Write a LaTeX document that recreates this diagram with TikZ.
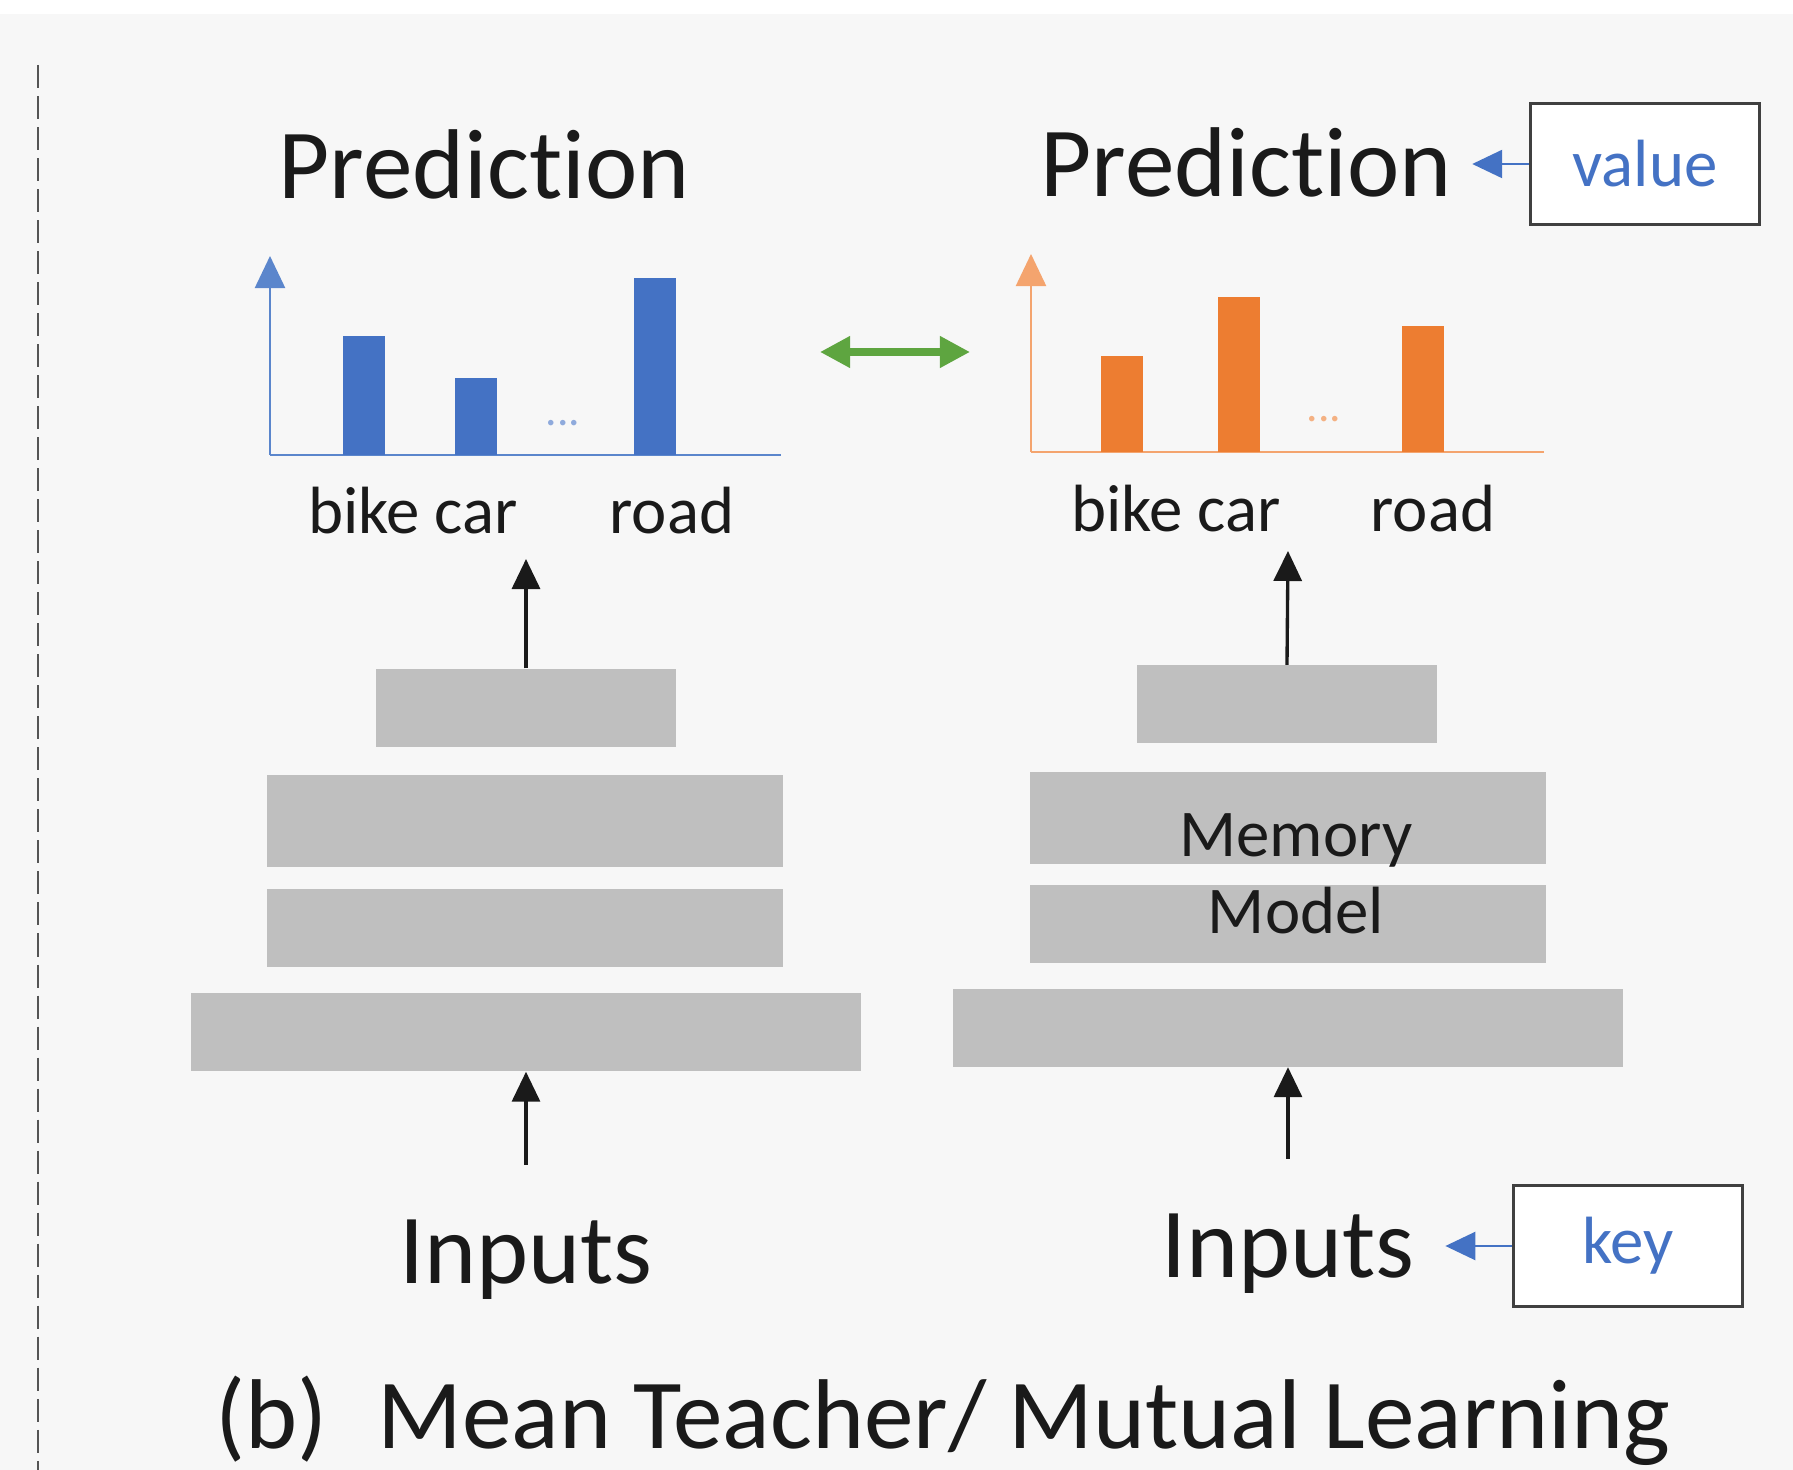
\documentclass[tikz,border=0pt]{standalone}
\usepackage{fontspec}
\setmainfont[Ligatures=NoCommon]{Carlito}
\usetikzlibrary{arrows.meta}

\definecolor{bgcol}{HTML}{F7F7F7}
\definecolor{txtblack}{HTML}{1A1A1A}
\definecolor{layergray}{HTML}{BFBFBF}
\definecolor{barblue}{HTML}{4472C4}
\definecolor{axisblue}{HTML}{5B86CC}
\definecolor{dotblue}{HTML}{8FAADC}
\definecolor{barorange}{HTML}{ED7D31}
\definecolor{axisorange}{HTML}{F4A46E}
\definecolor{dotorange}{HTML}{F4B183}
\definecolor{pairgreen}{HTML}{5EA540}
\definecolor{boxgray}{HTML}{404040}
\definecolor{dashgray}{HTML}{555555}

\begin{document}
\begin{tikzpicture}[x=0.01cm, y=-0.01cm,
    title/.style={font=\fontsize{28.2}{34}\selectfont, text=txtblack, inner sep=0, anchor=base},
    catlabel/.style={font=\fontsize{19}{23}\selectfont, text=txtblack, inner sep=0, anchor=base},
    dots/.style={font=\fontsize{13}{15}\selectfont, inner sep=0, anchor=base},
    layer/.style={fill=layergray, inner sep=0},
    kvbox/.style={draw=boxgray, line width=0.85pt, fill=white, text=barblue, font=\fontsize{19}{23}\selectfont, minimum width=2.29cm, minimum height=1.21cm},
    flow/.style={-{Triangle[length=0.3cm, width=0.28cm]}, line width=0.95pt, txtblack},
    kvarrow/.style={-{Triangle[length=0.3cm, width=0.28cm]}, line width=0.7pt, barblue},
    pairarrow/.style={{Triangle[length=0.3cm, width=0.3cm]}-{Triangle[length=0.3cm, width=0.3cm]}, line width=2pt, pairgreen}]

    % background
    \fill[bgcol] (0,0) rectangle (1793,1470);
    \fill[white] (0,0) rectangle (1793,14);
    \useasboundingbox (0,0) rectangle (1793,1470);

    % separator
    \draw[dashgray, line width=0.85pt, dash pattern=on 0.23cm off 0.08cm] (38,65) -- (38,1470);

    % Left prediction (blue)
    \node[title] (l_pred) at (484,199) {Prediction};
    \draw[axisblue, line width=0.65pt, -{Triangle[length=0.32cm, width=0.3cm]}] (270,455) -- (270,256);
    \draw[axisblue, line width=0.65pt] (270,455) -- (781,455);
    \foreach \x/\h in {364/336, 476/378, 655/278}
        \fill[barblue] (\x-21,455) rectangle (\x+21,\h);
    \node[dots, text=dotblue] (l_dots) at (563,426) {...};
    \node[catlabel] (l_bikecar) at (413,534) {bike car};
    \node[catlabel] (l_road) at (672,534) {road};

    % Right prediction (orange)
    \node[title] (r_pred) at (1246,197) {Prediction};
    \draw[axisorange, line width=0.65pt, -{Triangle[length=0.32cm, width=0.3cm]}] (1031,452) -- (1031,254);
    \draw[axisorange, line width=0.65pt] (1031,452) -- (1544,452);
    \foreach \x/\h in {1122/356, 1239/297, 1423/326}
        \fill[barorange] (\x-21,452) rectangle (\x+21,\h);
    \node[dots, text=dotorange] (r_dots) at (1324,422) {...};
    \node[catlabel] (r_bikecar) at (1176,532) {bike car};
    \node[catlabel] (r_road) at (1433,532) {road};

    % Left network
    \node[layer, minimum width=3cm, minimum height=0.78cm] (l_top) at (526,708) {};
    \node[layer, minimum width=5.15cm, minimum height=0.92cm] (l_mid1) at (525,821) {};
    \node[layer, minimum width=5.15cm, minimum height=0.77cm] (l_mid2) at (525,928) {};
    \node[layer, minimum width=6.69cm, minimum height=0.78cm] (l_base) at (526,1032) {};

    % Right network
    \node[layer, minimum width=3cm, minimum height=0.77cm] (r_top) at (1287,704) {};
    \node[layer, minimum width=5.15cm, minimum height=0.92cm] (r_mid1) at (1288,818) {};
    \node[layer, minimum width=5.15cm, minimum height=0.77cm] (r_mid2) at (1288,924) {};
    \node[layer, minimum width=6.70cm, minimum height=0.77cm] (r_base) at (1288,1028) {};
    \node[font=\fontsize{19}{22}\selectfont, text=txtblack, align=center, inner sep=0] (r_memory) at (1296,874) {Memory\\Model};

    % Inputs
    \node[title] (l_in) at (526,1283) {Inputs};
    \node[title] (r_in) at (1288,1277) {Inputs};

    % key / value
    \node[kvbox] (value_box) at (1645,164) {value};
    \node[kvbox] (key_box) at (1628,1246) {key};

    % Arrows
    \coordinate (l_out) at (526,559);
    \coordinate (r_out) at (1288,551);
    \draw[flow] (l_top.north) -- (l_out);
    \draw[flow] (r_top.north) -- (r_out);
    \draw[flow, shorten <=0.54cm] (l_in.north) -- (l_base.south);
    \draw[flow, shorten <=0.54cm] (r_in.north) -- (r_base.south);
    \draw[kvarrow, shorten >=0.2cm] (value_box.west) -- (value_box.west -| r_pred.east);
    \draw[kvarrow, shorten >=0.3cm] (key_box.west) -- (key_box.west -| r_in.east);

    \coordinate (l_chart_e) at (820,352);
    \coordinate (r_chart_w) at (970,352);
    \draw[pairarrow] (l_chart_e) -- (r_chart_w);

    % caption
    \node[title] (caption) at (943,1448) {(b)\hspace{0.5cm}Mean Teacher/ Mutual Learning};
\end{tikzpicture}
\end{document}
